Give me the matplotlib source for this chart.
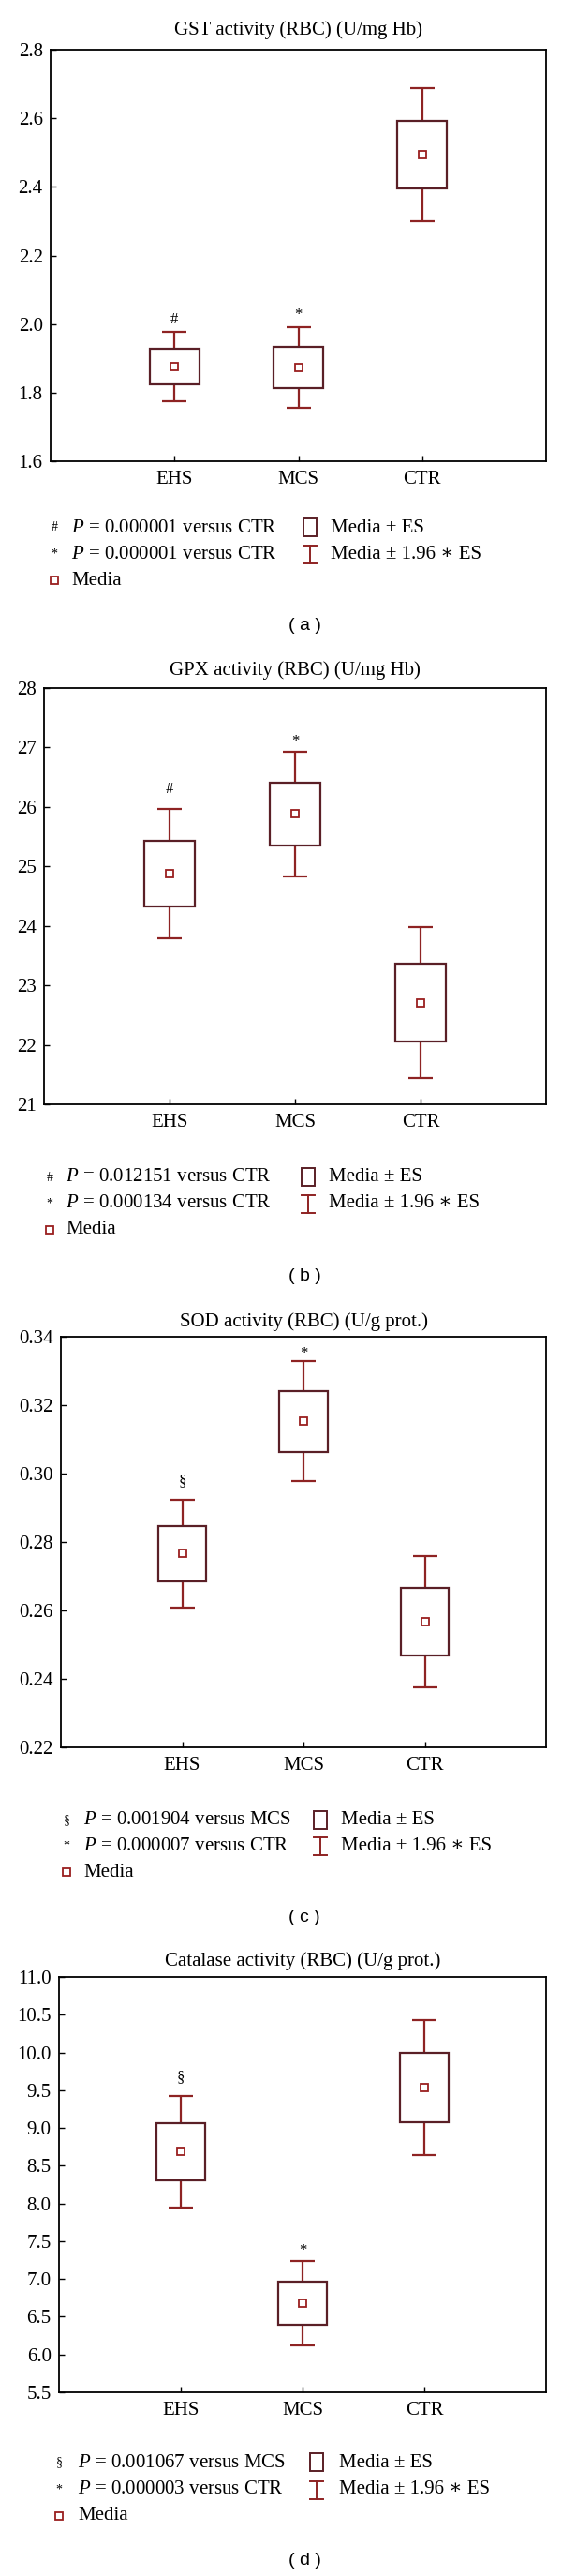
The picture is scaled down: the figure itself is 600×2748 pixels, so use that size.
import numpy as np
import matplotlib
matplotlib.use("Agg")
import matplotlib.pyplot as plt
from matplotlib.patches import Rectangle

plt.rcParams["font.family"] = ["Liberation Serif", "DejaVu Serif"]
plt.rcParams["mathtext.fontset"] = "custom"
plt.rcParams["mathtext.rm"] = "Liberation Serif"
plt.rcParams["mathtext.it"] = "Liberation Serif:italic"

# ---- data ----
groups = ["EHS", "MCS", "CTR"]

gst_mean = [1.876, 1.873, 2.494]
gst_se = [0.051, 0.060, 0.0995]
gpx_mean = [24.88, 25.88, 22.71]
gpx_se = [0.555, 0.535, 0.650]
sod_mean = [0.2766, 0.3153, 0.2567]
sod_se = [0.0080, 0.0089, 0.0098]
cat_mean = [8.685, 6.685, 9.535]
cat_se = [0.375, 0.285, 0.455]

titles = ["GST activity (RBC) (U/mg Hb)", "GPX activity (RBC) (U/mg Hb)",
          "SOD activity (RBC) (U/g prot.)", "Catalase activity (RBC) (U/g prot.)"]
gst_ticks = [1.6, 1.8, 2.0, 2.2, 2.4, 2.6, 2.8]
gpx_ticks = [21, 22, 23, 24, 25, 26, 27, 28]
sod_ticks = [0.22, 0.24, 0.26, 0.28, 0.30, 0.32, 0.34]
cat_ticks = [5.5, 6.0, 6.5, 7.0, 7.5, 8.0, 8.5, 9.0, 9.5, 10.0, 10.5, 11.0]
tick_fmt = ["%.1f", "%d", "%.2f", "%.1f"]

marks = [["#", "*", ""], ["#", "*", ""], ["§", "*", ""], ["§", "*", ""]]
notes = [
    [("#", "$P$ = 0.000001 versus CTR"), ("*", "$P$ = 0.000001 versus CTR")],
    [("#", "$P$ = 0.012151 versus CTR"), ("*", "$P$ = 0.000134 versus CTR")],
    [("§", "$P$ = 0.001904 versus MCS"), ("*", "$P$ = 0.000007 versus CTR")],
    [("§", "$P$ = 0.001067 versus MCS"), ("*", "$P$ = 0.000003 versus CTR")],
]
panel_tags = ["( a )", "( b )", "( c )", "( d )"]

# ---- layout in figure pixels ----
W, H = 600, 2748
axes_px = [(54, 583, 53, 492), (47, 583, 734, 1178), (65, 583, 1426, 1864), (63, 583, 2109, 2552)]
title_y = [32, 715, 1410, 2092]
rows_y = [(563, 591, 619), (1256, 1284, 1312), (1942, 1969, 1997), (2627, 2656, 2684)]
leg_x = [(58, 76, 324, 353), (53, 70, 322, 351), (71, 89, 335, 364), (63, 83, 331, 362)]
tag_y = [668, 1362, 2046, 2732]
mark_off = [(13, 13), (21, 11), (20, 8), (20, 11)]

BOX = "#5a1f26"
WHISK = "#8e2323"
MEAN = "#9a1f1f"

fig = plt.figure(figsize=(W / 100, H / 100), dpi=100)

means = [gst_mean, gpx_mean, sod_mean, cat_mean]
ses = [gst_se, gpx_se, sod_se, cat_se]
ticks = [gst_ticks, gpx_ticks, sod_ticks, cat_ticks]

ov = fig.add_axes([0, 0, 1, 1])
ov.set_xlim(0, W)
ov.set_ylim(H, 0)
ov.axis("off")

xs = np.arange(1, len(groups) + 1)
for i in range(4):
    x0, x1, y0, y1 = axes_px[i]
    ax = fig.add_axes([x0 / W, 1 - y1 / H, (x1 - x0) / W, (y1 - y0) / H])
    m = np.array(means[i])
    se = np.array(ses[i])
    ax.errorbar(xs, m, yerr=1.96 * se, fmt="none", ecolor=WHISK, elinewidth=1.6,
                capsize=9.7, capthick=1.6, zorder=2)
    ax.bar(xs, 2 * se, bottom=m - se, width=0.4, facecolor="white",
           edgecolor=BOX, linewidth=1.6, zorder=3)
    ax.plot(xs, m, "s", ms=6, mfc="white", mec=MEAN, mew=1.3, zorder=4)
    for j, sym in enumerate(marks[i]):
        if sym:
            ax.annotate(sym, (xs[j], m[j] + 1.96 * se[j]), xytext=(0, mark_off[i][j]),
                        textcoords="offset pixels", ha="center", va="center", fontsize=12)
    ax.set_xlim(0, 4)
    ax.set_ylim(ticks[i][0], ticks[i][-1])
    ax.set_xticks(xs)
    ax.set_xticklabels(groups)
    ax.set_yticks(ticks[i])
    ax.set_yticklabels([tick_fmt[i] % t for t in ticks[i]])
    ax.tick_params(direction="in", length=4, width=1, labelsize=15)
    ax.tick_params(axis="x", pad=7)
    ax.tick_params(axis="y", pad=6)
    for s in ax.spines.values():
        s.set_linewidth(1.3)
    ax.text(0.5, 1 + (y0 - title_y[i]) / (y1 - y0), titles[i], transform=ax.transAxes,
            ha="center", va="center", fontsize=15)

    # legend drawn by hand, like the original
    sx, tx, bx, tx2 = leg_x[i]
    r1, r2, r3 = rows_y[i]
    for (sym, txt), ry in zip(notes[i], (r1, r2)):
        ov.text(sx, ry, sym, ha="center", va="center", fontsize=10)
        ov.text(tx, ry, txt, ha="left", va="center", fontsize=15)
    ov.add_patch(Rectangle((bx, r1 - 10), 14, 19, fill=False, ec=BOX, lw=1.4))
    ov.text(tx2, r1, "Media ± ES", ha="left", va="center", fontsize=15)
    cx = bx + 7
    ov.plot([cx, cx], [r2 - 9, r2 + 10], color=WHISK, lw=1.4)
    ov.plot([bx, bx + 14], [r2 - 9, r2 - 9], color=WHISK, lw=1.4)
    ov.plot([bx, bx + 14], [r2 + 10, r2 + 10], color=WHISK, lw=1.4)
    ov.text(tx2, r2, "Media ± 1.96 \u2217 ES", ha="left", va="center", fontsize=15)
    ov.plot([sx], [r3], "s", ms=6, mfc="white", mec=MEAN, mew=1.3)
    ov.text(tx, r3, "Media", ha="left", va="center", fontsize=15)
    ov.text(325, tag_y[i], panel_tags[i], ha="center", va="center", fontsize=14,
            family=["Liberation Sans", "DejaVu Sans"])

fig.savefig("out.png", dpi=100)
